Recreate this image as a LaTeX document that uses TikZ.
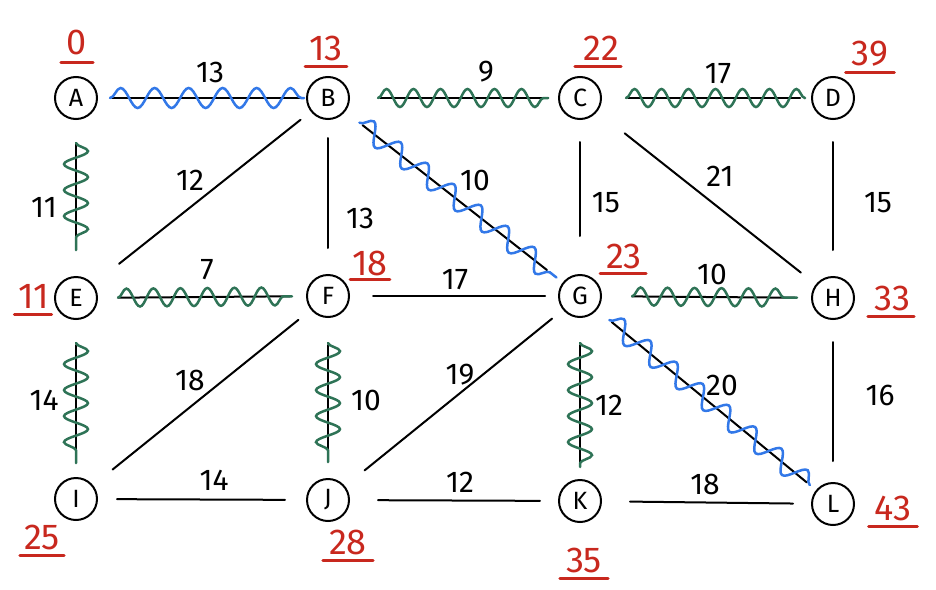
\documentclass[tikz,border=0pt]{standalone}
\usepackage{fontspec}
\setmainfont{Fira Sans}
\usetikzlibrary{calc,decorations.pathmorphing}
\definecolor{wblue}{RGB}{50,120,232}
\definecolor{wgreen}{RGB}{46,115,86}
\definecolor{dred}{RGB}{200,40,30}
\tikzset{
  vtx/.style={circle,draw,line width=2pt,minimum size=42pt,inner sep=0pt,font=\fontsize{25}{25}\selectfont},
  edge/.style={line width=2pt,line cap=round},
  bwave/.style={wblue,line width=2.5pt,line cap=round,decorate,decoration={snake,amplitude=10pt,segment length=34pt}},
  gwave/.style={wgreen,line width=2.5pt,line cap=round,decorate,decoration={snake,amplitude=9pt,segment length=27pt}},
  gvwave/.style={wgreen,line width=2.5pt,line cap=round,decorate,decoration={snake,amplitude=12pt,segment length=26pt}},
  wlbl/.style={font=\fontsize{30}{30}\selectfont,inner sep=0pt},
  dist/.style={text=dred,font=\fontsize{36}{36}\selectfont,inner sep=0pt},
  uline/.style={dred,line width=3pt,line cap=round}
}
\begin{document}
\begin{tikzpicture}[x=1pt,y=-1pt]
\useasboundingbox (0,0) rectangle (936,589);
% vertices
\node[vtx] (A) at (76,98) {A};
\node[vtx] (B) at (328,98) {B};
\node[vtx] (C) at (580,98) {C};
\node[vtx] (D) at (833,98) {D};
\node[vtx] (E) at (76,298) {E};
\node[vtx] (F) at (328,296) {F};
\node[vtx] (G) at (580,296) {G};
\node[vtx] (H) at (833,298) {H};
\node[vtx] (I) at (76,499) {I};
\node[vtx] (J) at (328,500) {J};
\node[vtx] (K) at (580,501) {K};
\node[vtx] (L) at (833,504) {L};
% edges: black lines
\draw[edge] ($(A)!36pt!(B)$) -- ($(B)!28pt!(A)$);
\draw[edge] ($(B)!52pt!(C)$) -- ($(C)!32pt!(B)$);
\draw[edge] ($(C)!48pt!(D)$) -- ($(D)!33pt!(C)$);
\draw[edge] ($(A)!45pt!(E)$) -- ($(E)!50pt!(A)$);
\draw[edge] ($(B)!35pt!(E)$) -- ($(E)!55pt!(B)$);
\draw[edge] ($(B)!40pt!(F)$) -- ($(F)!48pt!(B)$);
\draw[edge] ($(B)!44pt!(G)$) -- ($(G)!42pt!(B)$);
\draw[edge] ($(C)!44pt!(G)$) -- ($(G)!60pt!(C)$);
\draw[edge] ($(C)!57pt!(H)$) -- ($(H)!41pt!(C)$);
\draw[edge] ($(D)!44pt!(H)$) -- ($(H)!48pt!(D)$);
\draw[edge] ($(E)!42pt!(F)$) -- ($(F)!38pt!(E)$);
\draw[edge] ($(F)!45pt!(G)$) -- ($(G)!35pt!(F)$);
\draw[edge] ($(G)!52pt!(H)$) -- ($(H)!38pt!(G)$);
\draw[edge] ($(E)!47pt!(I)$) -- ($(I)!38pt!(E)$);
\draw[edge] ($(F)!38pt!(I)$) -- ($(I)!47pt!(F)$);
\draw[edge] ($(F)!49pt!(J)$) -- ($(J)!40pt!(F)$);
\draw[edge] ($(G)!36pt!(J)$) -- ($(J)!47pt!(G)$);
\draw[edge] ($(G)!49pt!(K)$) -- ($(K)!36pt!(G)$);
\draw[edge] ($(G)!41pt!(L)$) -- ($(L)!34pt!(G)$);
\draw[edge] ($(H)!44pt!(L)$) -- ($(L)!43pt!(H)$);
\draw[edge] ($(I)!41pt!(J)$) -- ($(J)!43pt!(I)$);
\draw[edge] ($(J)!50pt!(K)$) -- ($(K)!40pt!(J)$);
\draw[edge] ($(K)!50pt!(L)$) -- ($(L)!40pt!(K)$);
% wavy overlays
\draw[bwave] ($(A)!34pt!(B)$) -- ($(B)!24pt!(A)$);
\draw[bwave] ($(B)!40pt!(G)$) -- ($(G)!30pt!(B)$);
\draw[bwave] ($(G)!38pt!(L)$) -- ($(L)!30pt!(G)$);
\draw[gwave] ($(B)!50pt!(C)$) -- ($(C)!32pt!(B)$);
\draw[gwave] ($(C)!46pt!(D)$) -- ($(D)!28pt!(C)$);
\draw[gwave] ($(E)!42pt!(F)$) -- ($(F)!36pt!(E)$);
\draw[gwave] ($(G)!52pt!(H)$) -- ($(H)!36pt!(G)$);
\draw[gvwave] ($(A)!45pt!(E)$) -- ($(E)!48pt!(A)$);
\draw[gvwave] ($(E)!45pt!(I)$) -- ($(I)!36pt!(E)$);
\draw[gvwave] ($(F)!47pt!(J)$) -- ($(J)!38pt!(F)$);
\draw[gvwave] ($(G)!47pt!(K)$) -- ($(K)!34pt!(G)$);
% weights
\node[wlbl] (wAB) at (210,72) {13};
\node[wlbl] (wBC) at (486,72) {9};
\node[wlbl] (wCD) at (718,74) {17};
\node[wlbl] (wAE) at (44,207) {11};
\node[wlbl] (wBE) at (190,180) {12};
\node[wlbl] (wBF) at (360,218) {13};
\node[wlbl] (wBG) at (475,180) {10};
\node[wlbl] (wCG) at (606,203) {15};
\node[wlbl] (wCH) at (720,176) {21};
\node[wlbl] (wDH) at (878,203) {15};
\node[wlbl] (wEF) at (207,270) {7};
\node[wlbl] (wFG) at (455,280) {17};
\node[wlbl] (wGH) at (712,274) {10};
\node[wlbl] (wEI) at (44,400) {14};
\node[wlbl] (wFI) at (190,380) {18};
\node[wlbl] (wFJ) at (366,400) {10};
\node[wlbl] (wGJ) at (460,375) {19};
\node[wlbl] (wGK) at (609,405) {12};
\node[wlbl] (wGL) at (722,385) {20};
\node[wlbl] (wHL) at (880,395) {16};
\node[wlbl] (wIJ) at (214,480) {14};
\node[wlbl] (wJK) at (460,482) {12};
\node[wlbl] (wKL) at (705,484) {18};
% distances
\node[dist] (dA) at (77,42) {0};
\draw[uline] ($(dA.south west)+(-6,8)$) -- ($(dA.south east)+(6,8)$);
\node[dist] (dB) at (326,48) {13};
\draw[uline] ($(dB.south west)+(-4,6)$) -- ($(dB.south east)+(4,6)$);
\node[dist] (dC) at (601,48) {22};
\draw[uline] ($(dC.south west)+(-8,6)$) -- ($(dC.south east)+(2,6)$);
\node[dist] (dD) at (870,54) {39};
\draw[uline] ($(dD.south west)+(-6,6)$) -- ($(dD.south east)+(6,6)$);
\node[dist] (dE) at (34,296) {11};
\draw[uline] ($(dE.south west)+(-4,6)$) -- ($(dE.south east)+(2,6)$);
\node[dist] (dF) at (370,263) {18};
\draw[uline] ($(dF.south west)+(-2,4)$) -- ($(dF.south east)+(2,4)$);
\node[dist] (dG) at (624,256) {23};
\draw[uline] ($(dG.south west)+(-6,5)$) -- ($(dG.south east)+(4,5)$);
\node[dist] (dH) at (892,298) {33};
\draw[uline] ($(dH.south west)+(-6,6)$) -- ($(dH.south east)+(4,6)$);
\node[dist] (dI) at (42,537) {25};
\draw[uline] ($(dI.south west)+(-4,6)$) -- ($(dI.south east)+(4,6)$);
\node[dist] (dJ) at (348,542) {28};
\draw[uline] ($(dJ.south west)+(-6,6)$) -- ($(dJ.south east)+(6,6)$);
\node[dist] (dK) at (584,560) {35};
\draw[uline] ($(dK.south west)+(-6,6)$) -- ($(dK.south east)+(6,6)$);
\node[dist] (dL) at (893,508) {43};
\draw[uline] ($(dL.south west)+(-6,6)$) -- ($(dL.south east)+(6,6)$);
\end{tikzpicture}
\end{document}
